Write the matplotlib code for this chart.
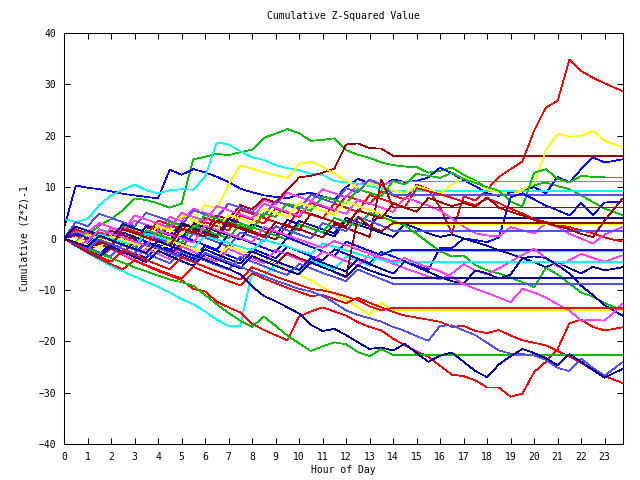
import matplotlib
matplotlib.use("Agg")
import matplotlib.pyplot as plt

# half-hour sampling grid (hours); last sample at 23:45
hours = [i * 0.5 for i in range(47)] + [23.75]
x_end = 23.75

# ---- series that continue to the end of the day ----
c1_red = [0, 0.6, -0.4, 1.2, 0.4, -0.5, 1.8, 1.0, 0.2, 2.5, 1.7, 0.9, 3.2, 2.4, 1.6, 4.5, 3.7, 2.9, 5.8, 5.0, 4.2, 7.0, 6.2, 5.4, 8.3, 7.5, 6.7, 9.2, 8.4, 7.6, 10.5, 9.6, 6.0, 1.0, 8.2, 7.4, 9.5, 12.0, 13.5, 15.0, 21.0, 25.5, 26.8, 34.8, 32.6, 31.3, 30.2, 28.7]
c2_yellow = [0, -0.7, -1.4, 0.5, -0.2, -0.9, 1.5, 0.8, 2.8, 2.0, 4.5, 3.7, 6.5, 5.8, 10.5, 14.2, 13.6, 12.9, 12.3, 11.8, 14.5, 15.0, 14.0, 12.6, 11.2, 9.8, 10.8, 10.1, 9.4, 8.8, 10.2, 9.5, 8.8, 10.5, 11.9, 11.0, 9.6, 9.0, 8.4, 9.5, 10.7, 17.2, 20.4, 19.8, 20.0, 21.0, 19.0, 17.8]
c3_blue = [2.0, 10.3, 9.9, 9.6, 9.2, 8.7, 8.4, 8.1, 7.8, 13.4, 12.4, 13.5, 12.9, 12.0, 11.0, 9.7, 9.0, 8.4, 8.1, 7.8, 8.6, 8.9, 8.2, 7.6, 10.0, 11.6, 10.8, 10.1, 11.5, 11.0, 11.2, 11.9, 13.8, 12.7, 11.3, 10.2, 8.8, 8.3, 9.0, 9.4, 10.0, 8.8, 12.0, 10.9, 13.5, 15.8, 14.8, 15.4]
c4_green = [0, 1.2, 0.5, 2.5, 3.8, 5.5, 7.8, 7.5, 6.8, 6.0, 6.8, 15.4, 15.9, 16.5, 16.2, 16.8, 17.3, 19.6, 20.4, 21.3, 20.5, 19.0, 19.2, 19.5, 17.2, 16.3, 15.7, 14.8, 14.3, 14.0, 13.9, 12.8, 13.2, 13.8, 12.4, 11.2, 9.8, 9.0, 8.4, 9.6, 10.4, 10.9, 10.2, 9.6, 8.4, 7.1, 5.8, 4.6]
c5_green = [0, -0.8, 1.5, 0.8, 0.1, 2.6, 1.9, 1.2, 0.5, 3.2, 2.5, 1.8, 4.6, 3.9, 3.2, 2.5, 1.8, 4.9, 4.2, 6.8, 6.1, 5.4, 8.2, 7.5, 6.8, 9.6, 8.9, 8.2, 11.2, 10.5, 12.6, 12.2, 11.8, 12.8, 11.6, 10.8, 10.0, 9.3, 7.2, 6.2, 12.8, 13.5, 11.6, 10.9, 12.2, 12.0, 11.9, 11.9]
c6_darkred = [0, -1.0, -1.9, -0.6, -1.5, 1.8, 1.0, 0.2, -0.6, -1.4, 2.0, 1.2, 0.4, 3.5, 2.7, 1.9, 1.1, 0.3, 3.2, 2.4, 1.6, 4.8, 4.0, 3.2, 2.4, 5.5, 4.7, 3.9, 6.8, 6.0, 5.2, 7.9, 7.1, 6.3, 6.9, 6.2, 8.0, 6.0, 5.2, 4.5, 3.6, 3.0, 2.4, 1.8, 0.9, 0.3, 3.5, 7.7]
c7_blue = [0, -1.2, -2.3, -3.3, -1.0, -2.0, -2.9, -3.8, -1.2, -2.1, -3.0, -3.9, -1.5, -2.4, -3.3, -4.2, -2.0, -2.9, -3.8, -1.6, -2.5, -3.4, -4.3, -2.1, -3.0, -3.9, -4.8, -2.6, -3.5, -4.4, -5.3, -6.1, -1.8, -1.9, 0.0, -0.3, -0.7, 0.2, 8.0, 8.8, 7.6, 6.4, 5.5, 4.5, 6.9, 4.6, 7.0, 7.2]
c8_red = [0, 1.8, 1.0, 0.2, -0.6, 2.2, 1.4, 0.6, 3.5, 2.7, 1.9, 1.1, 4.0, 3.2, 2.4, 5.6, 4.8, 4.0, 3.2, 2.4, 5.5, 4.7, 3.9, 6.8, 6.0, 5.2, 8.5, 7.7, 6.9, 6.1, 9.8, 9.2, 8.6, 7.9, 7.2, 6.5, 7.8, 6.9, 5.8, 4.9, 3.8, 3.2, 2.7, 2.2, 1.6, 1.0, 0.2, -0.6]
c9_magenta = [0, -0.8, 1.2, 3.0, 2.2, 1.4, 4.5, 3.7, 2.9, 2.1, 5.0, 4.2, 3.4, 6.3, 5.5, 4.7, 3.9, 6.8, 6.0, 5.2, 4.4, 7.2, 6.4, 5.6, 4.8, 7.6, 6.8, 6.0, 5.2, 8.0, 7.2, 6.4, 5.4, 3.9, 2.3, 1.0, 0.6, 0.4, 2.2, 1.6, 1.0, 3.0, 2.2, 0.9, 0.0, -1.0, 0.8, 2.2]
c10_magenta = [0, -1.3, -2.5, -0.8, -2.0, -3.1, -4.1, -1.9, -3.0, -4.0, -1.5, -2.6, -3.6, -4.5, -2.0, -3.0, -3.9, -4.8, -2.2, -3.2, -4.1, -5.0, -2.5, -3.5, -4.4, -5.3, -3.0, -4.0, -4.9, -5.8, -6.6, -7.4, -8.0, -6.8, -5.0, -6.2, -7.0, -5.8, -4.5, -3.2, -2.0, -3.8, -5.5, -4.2, -3.0, -3.8, -4.5, -3.3]
c11_magenta = [0, -1.5, -0.5, 1.8, 1.0, 0.2, -0.6, -1.4, 1.6, 0.8, 0.0, -0.8, 2.5, 1.7, 0.9, 0.1, -0.7, 2.2, 1.4, 0.6, -0.2, -1.0, -1.8, -0.5, -1.3, -2.1, -2.9, -3.7, -4.5, -3.8, -4.8, -5.6, -6.4, -7.5, -8.9, -9.8, -10.6, -11.5, -12.4, -9.8, -10.5, -11.5, -12.8, -14.0, -16.0, -15.8, -16.0, -12.7]
c12_navy = [0, 2.3, 1.5, 0.7, -0.1, 2.8, 2.0, 1.2, 0.4, -0.4, 2.9, 2.1, 1.3, 0.5, 3.8, 3.0, 2.2, 1.4, 0.6, 3.6, 2.8, 2.0, 1.2, 0.4, 3.5, 2.7, 1.9, 1.1, 0.3, 2.8, 2.0, 1.0, 0.3, 0.8, 0.0, -0.7, -1.4, -2.3, -3.0, -3.8, -4.6, -5.6, -4.6, -5.8, -6.8, -5.5, -6.2, -5.6]
c13_green = [0, -0.9, -1.8, 0.9, 0.1, -0.7, -1.5, 1.6, 0.8, 0.0, -0.8, 2.4, 1.6, 0.8, 0.0, 3.0, 2.2, 1.4, 0.6, -0.2, 2.8, 2.0, 1.2, 4.0, 3.2, 2.4, 5.0, 4.2, 3.4, 2.6, 0.9, -0.8, -2.5, -3.5, -3.3, -5.2, -6.2, -6.8, -7.6, -8.5, -9.5, -5.7, -7.0, -8.8, -10.5, -11.3, -12.6, -13.9]
c14_navy = [0, -1.1, -2.2, -3.2, -1.0, -2.0, -2.9, -0.6, -1.6, -2.6, -3.5, -4.4, -2.1, -3.1, -4.0, -4.9, -2.5, -3.5, -4.4, -5.3, -6.1, -3.8, -4.7, -5.6, -6.4, -4.0, -5.0, -5.9, -6.8, -4.5, -5.5, -6.5, -7.5, -8.3, -8.8, -6.2, -6.8, -7.8, -7.0, -3.8, -3.5, -3.8, -5.2, -6.8, -9.2, -11.0, -13.0, -15.0]
c15_red = [0, -1.3, -2.5, -3.6, -2.0, -3.2, -4.3, -5.3, -6.3, -7.2, -8.1, -9.8, -10.3, -12.3, -13.4, -14.4, -16.6, -17.8, -18.8, -19.8, -15.2, -14.2, -13.4, -14.2, -15.0, -16.3, -17.2, -17.9, -19.5, -20.8, -22.0, -23.0, -24.8, -26.5, -26.8, -27.6, -29.0, -29.0, -30.8, -30.2, -26.0, -24.0, -21.5, -16.5, -15.8, -17.2, -17.9, -17.3]
c16_red = [0, -1.4, -2.7, -3.9, -5.0, -6.0, -4.2, -5.2, -6.1, -7.0, -7.8, -5.5, -6.5, -7.4, -8.3, -9.1, -6.8, -7.8, -8.7, -9.6, -10.4, -11.2, -11.0, -11.8, -12.6, -11.5, -12.5, -13.4, -14.3, -15.0, -15.4, -15.8, -16.2, -17.2, -17.0, -18.0, -18.4, -17.8, -18.9, -19.8, -20.3, -20.8, -21.9, -23.0, -24.2, -25.6, -26.8, -28.1]
c17_navy = [0, -0.8, -1.6, 0.6, -0.3, -1.2, -2.0, -2.8, -0.5, -1.4, -2.3, -3.2, -4.1, -5.0, -5.9, -7.0, -9.3, -11.2, -12.2, -13.4, -14.6, -16.8, -18.0, -17.6, -18.8, -20.2, -21.5, -21.2, -21.8, -20.5, -22.3, -24.0, -22.8, -22.2, -24.0, -25.8, -27.0, -24.5, -22.9, -21.5, -22.3, -23.3, -24.7, -22.5, -24.0, -25.6, -27.1, -25.4]
c18_lightblue = [0, -1.0, -2.0, -0.2, -1.1, -2.0, -2.9, -1.0, -1.9, -2.8, -3.7, -4.6, -2.8, -3.7, -4.6, -5.5, -6.4, -7.3, -8.2, -9.0, -9.8, -10.3, -11.2, -12.5, -14.0, -14.9, -15.5, -16.2, -17.2, -18.0, -19.0, -19.9, -17.0, -16.9, -17.9, -18.8, -20.3, -21.8, -22.4, -22.5, -22.8, -23.6, -25.2, -25.8, -23.4, -25.2, -26.7, -24.1]

# ---- series whose data stop at 14:00 (held flat afterwards) ----
f1_darkred = [0, 0.8, 0.0, -0.8, 1.5, 0.7, -0.1, 2.2, 1.4, 0.6, 3.0, 2.2, 1.4, 4.5, 3.7, 6.5, 5.7, 7.8, 7.0, 9.5, 11.9, 12.2, 12.8, 13.6, 18.3, 18.5, 17.6, 17.5, 16.1]
f2_magenta = [0, 1.5, 0.7, -0.1, 2.0, 1.2, 3.5, 2.7, 1.9, 4.2, 3.4, 5.8, 5.0, 4.2, 6.8, 6.0, 5.2, 7.5, 6.7, 8.9, 8.1, 7.3, 9.6, 8.8, 8.0, 10.5, 11.2, 10.4, 11.1]
f3_cyan = [3.8, 3.2, 3.8, 6.5, 8.4, 9.5, 10.5, 9.4, 8.8, 9.4, 9.6, 9.5, 12.0, 18.7, 18.3, 17.0, 15.8, 15.3, 14.3, 13.7, 13.3, 12.6, 12.4, 11.2, 10.9, 10.7, 10.2, 9.7, 9.3]
f4_lightblue = [0, 3.2, 2.4, 4.8, 4.0, 3.2, 2.4, 5.0, 4.2, 3.4, 2.6, 5.5, 4.7, 3.9, 6.8, 6.0, 5.2, 4.4, 7.3, 6.5, 5.7, 8.5, 7.7, 6.9, 9.8, 9.0, 11.5, 10.5, 8.5]
f5_darkred = [0, -0.9, -1.8, 0.6, -0.3, -1.2, 1.2, 0.4, -0.4, -1.2, 2.5, 1.7, 0.9, 0.1, 3.0, 2.2, 1.4, 0.6, -0.2, 2.6, 1.8, 1.0, 0.2, 2.8, 2.0, 1.2, 0.3, 11.5, 6.05]
f6_navy = [0, -0.6, -1.2, 1.8, 1.0, 0.2, -0.6, 2.5, 1.7, 0.9, 0.1, 3.0, 2.2, 1.4, 0.6, -0.2, 2.8, 2.0, 1.2, 0.4, 3.4, 2.6, 1.8, 1.0, 4.0, 3.2, 2.4, 4.8, 4.0]
f7_darkred = [0, -1.2, -2.3, -1.0, -2.0, -2.9, -0.5, -1.5, -2.4, -3.3, -1.0, -2.0, -2.9, -3.8, -1.4, -2.4, -3.3, -4.2, -5.0, -2.8, -3.8, -4.7, -5.6, -6.5, -7.6, 4.2, 2.4, 1.4, 3.0]
f8_yellow = [0, -1.0, 0.8, 0.0, -0.8, 1.5, 0.7, -0.1, 2.4, 1.6, 0.8, 3.4, 2.6, 1.8, 4.6, 3.8, 3.0, 5.8, 5.0, 4.2, 7.0, 6.2, 5.4, 4.6, 7.2, 6.4, 5.6, 4.8, 2.7]
f9_lightblue = [0, -1.1, -2.1, 0.5, -0.4, -1.3, -2.2, 0.8, 0.0, -0.9, -1.8, 1.0, 0.2, -0.7, -1.6, 1.2, 0.4, -0.5, 2.4, 1.6, 0.8, 0.0, 3.0, 2.2, 1.4, 4.2, 3.4, 2.5, 1.5]
f10_blue = [0, 1.0, 0.1, -0.8, -1.7, 1.2, 0.3, -0.6, -1.5, -2.4, 0.5, -0.4, -1.3, -2.2, 0.9, 0.0, -0.9, -1.8, -2.7, 0.2, -0.7, -1.6, -2.5, -3.4, -0.6, -1.5, -2.4, -3.2, -2.2]
f11_cyan = [0, -1.4, -2.8, -4.1, -5.3, -6.4, -7.4, -8.4, -9.4, -10.5, -11.8, -12.8, -14.2, -15.8, -17.0, -17.0, -6.5, -7.4, -5.0, -5.9, -6.8, -4.2, -5.1, -6.0, -3.5, -4.4, -5.3, -3.0, -2.5]
f12_cyan = [0, -0.7, -1.4, 0.8, 0.1, -0.6, -1.3, 1.0, 0.3, -0.4, -1.1, -1.8, 0.5, -0.2, -0.9, -1.6, -2.3, -0.2, -0.9, -1.6, -2.3, -3.0, -0.9, -1.6, -2.3, -3.0, -3.7, -4.2, -4.6]
f13_navy = [0, -1.3, -2.5, -3.6, -1.5, -2.6, -3.6, -4.6, -2.4, -3.4, -4.4, -5.3, -3.0, -4.0, -4.9, -5.8, -3.4, -4.4, -5.3, -6.2, -7.0, -4.6, -5.6, -6.5, -7.4, -5.2, -6.2, -7.0, -7.7]
f14_lightblue = [0, -0.9, -1.8, -2.7, -3.5, -1.2, -2.1, -3.0, -3.9, -4.8, -2.5, -3.4, -4.3, -5.2, -6.0, -3.6, -4.5, -5.4, -6.3, -7.1, -4.9, -5.8, -6.7, -7.5, -8.3, -6.0, -7.0, -7.9, -8.8]
f15_red = [0, -1.2, -2.4, -3.5, -4.5, -2.2, -3.2, -4.2, -5.1, -6.0, -3.6, -4.6, -5.5, -6.4, -7.2, -8.0, -5.6, -6.5, -7.4, -8.2, -9.0, -9.8, -10.1, -10.6, -11.3, -12.0, -13.2, -14.0, -13.5]
f16_yellow = [0, -0.6, -1.2, -1.8, 0.4, -0.3, -1.0, -1.7, -2.4, -0.4, -1.2, -2.0, -2.8, -3.6, -1.5, -2.4, -3.3, -4.2, -5.1, -6.0, -6.9, -8.2, -9.5, -10.8, -12.0, -13.4, -14.8, -12.4, -14.0]
f17_green = [0, -1.0, -2.0, -2.9, -3.8, -4.7, -5.6, -6.4, -7.2, -8.0, -8.5, -9.2, -11.0, -12.8, -14.5, -16.0, -17.2, -15.2, -17.0, -18.9, -20.4, -21.9, -21.0, -20.2, -20.6, -22.1, -22.9, -21.5, -22.7]

RED, GREEN, BLUE, MAGENTA, CYAN = "#ff0000", "#00c000", "#0000ff", "#ff40ff", "#00ffff"
DARKRED, YELLOW, NAVY, LIGHTBLUE = "#a00000", "#ffff00", "#0000a0", "#5050ff"

series = [
    (c1_red, RED), (c4_green, GREEN), (c3_blue, BLUE), (f2_magenta, MAGENTA), (f3_cyan, CYAN),
    (f1_darkred, DARKRED), (c2_yellow, YELLOW), (f6_navy, NAVY), (f4_lightblue, LIGHTBLUE),
    (c8_red, RED), (c5_green, GREEN), (c7_blue, BLUE), (c9_magenta, MAGENTA), (f11_cyan, CYAN),
    (f5_darkred, DARKRED), (f8_yellow, YELLOW), (c12_navy, NAVY), (f9_lightblue, LIGHTBLUE),
    (c15_red, RED), (c13_green, GREEN), (f10_blue, BLUE), (c10_magenta, MAGENTA), (f12_cyan, CYAN),
    (f7_darkred, DARKRED), (f16_yellow, YELLOW), (c14_navy, NAVY), (f14_lightblue, LIGHTBLUE),
    (c16_red, RED), (f17_green, GREEN), (c11_magenta, MAGENTA), (c6_darkred, DARKRED),
    (f13_navy, NAVY), (c18_lightblue, LIGHTBLUE), (f15_red, RED), (c17_navy, NAVY),
]

mono = "DejaVu Sans Mono"
fig = plt.figure(figsize=(6.4, 4.8), dpi=100)
ax = fig.add_axes([64 / 640, 1 - 444 / 480, (623 - 64) / 640, (444 - 33) / 480])

for vals, col in series:
    xs = hours[:len(vals)]
    ys = list(vals)
    if xs[-1] < x_end:
        xs = xs + [x_end]
        ys = ys + [ys[-1]]
    ax.plot(xs, ys, color=col, lw=0.5, antialiased=False)

ax.set_xlim(0, 23.78)
ax.set_ylim(-40, 40)
ax.set_xticks(range(24))
ax.set_yticks(range(-40, 41, 10))
ax.tick_params(direction="in", length=4.5, width=0.75, top=True, right=True,
               labelsize=7, pad=5.5, colors="black")
for lab in ax.get_xticklabels() + ax.get_yticklabels():
    lab.set_family(mono)
for sp in ax.spines.values():
    sp.set_linewidth(0.75)

fig.text(343 / 640, 1 - 16 / 480, "Cumulative Z-Squared Value", ha="center", va="center",
         family=mono, fontsize=7)
fig.text(343 / 640, 1 - 470 / 480, "Hour of Day", ha="center", va="center",
         family=mono, fontsize=7)
fig.text(25 / 640, 1 - 238 / 480, "Cumulative (Z*Z)-1", ha="center", va="center",
         rotation=90, family=mono, fontsize=7)

fig.savefig("out.png", dpi=100)
